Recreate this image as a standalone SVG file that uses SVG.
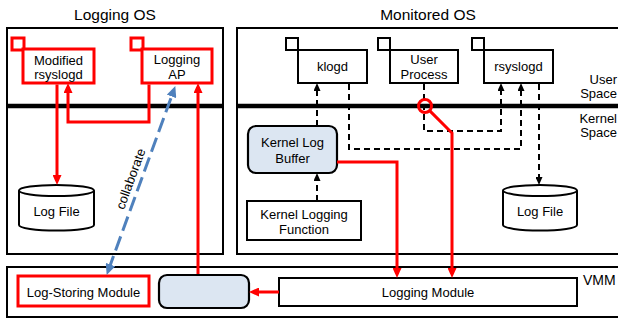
<svg xmlns="http://www.w3.org/2000/svg" width="618" height="320" viewBox="0 0 618 320">
  <style>
    text { font-family: "Liberation Sans", Arial, sans-serif; font-size: 13px; fill: #000; }
    .title { font-size: 15.5px; }
    .mid { text-anchor: middle; }
    .frame { fill: #fff; stroke: #000; stroke-width: 2; }
    .sep { stroke: #000; stroke-width: 4.5; }
    .box { fill: #fff; stroke: #000; stroke-width: 2; }
    .rbox { fill: #fff; stroke: #ff0000; stroke-width: 3; }
    .buf { fill: #dce6f2; stroke: #000; stroke-width: 2.2; }
    .red { fill: none; stroke: #ff0000; stroke-width: 3; }
    .dash { fill: none; stroke: #000; stroke-width: 2; stroke-dasharray: 6 4; }
    .blue { fill: none; stroke: #4f81bd; stroke-width: 3; stroke-dasharray: 15 6; }
  </style>
  <defs>
    <marker id="ar" viewBox="0 0 10 9" refX="6" refY="4.5" markerWidth="10" markerHeight="9" markerUnits="userSpaceOnUse" orient="auto">
      <path d="M0,0 L10,4.5 L0,9 z" fill="#ff0000"/>
    </marker>
    <marker id="ak" viewBox="0 0 8 7" refX="5" refY="3.5" markerWidth="8" markerHeight="7" markerUnits="userSpaceOnUse" orient="auto">
      <path d="M0,0 L8,3.5 L0,7 z" fill="#000"/>
    </marker>
    <marker id="ab" viewBox="0 0 11 10" refX="6" refY="5" markerWidth="11" markerHeight="10" markerUnits="userSpaceOnUse" orient="auto-start-reverse">
      <path d="M0,0 L11,5 L0,10 z" fill="#4f81bd"/>
    </marker>
  </defs>

  <!-- frames -->
  <g id="logging-os">
    <rect class="frame" x="7" y="28" width="216" height="226"/>
    <line class="sep" x1="7" y1="106" x2="223" y2="106"/>
    <text class="title mid" x="115" y="20">Logging OS</text>
  </g>
  <g id="monitored-os">
    <rect class="frame" x="237" y="28" width="400" height="226"/>
    <line class="sep" x1="237" y1="106" x2="637" y2="106"/>
    <text class="title mid" x="428" y="20">Monitored OS</text>
    <text x="617" y="84" text-anchor="end">User</text>
    <text x="617" y="98" text-anchor="end">Space</text>
    <text x="617" y="123" text-anchor="end">Kernel</text>
    <text x="617" y="137" text-anchor="end">Space</text>
  </g>
  <g id="vmm">
    <rect class="frame" x="7" y="267" width="630" height="50"/>
    <text x="583" y="285" style="font-size:14px">VMM</text>
  </g>

  <!-- Logging OS nodes -->
  <g id="modified-rsyslogd">
    <rect class="rbox" x="12" y="38" width="12" height="12"/>
    <rect class="rbox" x="23" y="49" width="71" height="34"/>
    <text class="mid" x="58.5" y="65">Modified</text>
    <text class="mid" x="58.5" y="79">rsyslogd</text>
  </g>
  <g id="logging-ap">
    <rect class="rbox" x="131" y="38" width="12" height="12"/>
    <rect class="rbox" x="142" y="49" width="70" height="34"/>
    <text class="mid" x="177" y="64">Logging</text>
    <text class="mid" x="177" y="79">AP</text>
  </g>
  <g id="log-file-left">
    <path class="box" d="M19,190.5 V225 A37.5,5.5 0 0 0 94,225 V190.5"/>
    <ellipse class="box" cx="56.5" cy="190.5" rx="37.5" ry="5.5"/>
    <text class="mid" x="56.5" y="216">Log File</text>
  </g>

  <!-- Monitored OS nodes -->
  <g id="klogd">
    <rect class="box" x="286" y="38" width="12" height="12"/>
    <rect class="box" x="298" y="50" width="69" height="33"/>
    <text class="mid" x="332.5" y="71">klogd</text>
  </g>
  <g id="user-process">
    <rect class="box" x="378" y="38" width="12" height="12"/>
    <rect class="box" x="390" y="50" width="68" height="33"/>
    <text class="mid" x="424" y="64">User</text>
    <text class="mid" x="424" y="79">Process</text>
  </g>
  <g id="rsyslogd">
    <rect class="box" x="472" y="38" width="12" height="12"/>
    <rect class="box" x="484" y="50" width="69" height="33"/>
    <text class="mid" x="518.5" y="71">rsyslogd</text>
  </g>
  <g id="kernel-log-buffer">
    <rect class="buf" x="248" y="126" width="89" height="47" rx="8"/>
    <text class="mid" x="292.5" y="147">Kernel Log</text>
    <text class="mid" x="292.5" y="163">Buffer</text>
  </g>
  <g id="kernel-logging-function">
    <rect class="box" x="247" y="201" width="114" height="39"/>
    <text class="mid" x="304" y="219">Kernel Logging</text>
    <text class="mid" x="304" y="234">Function</text>
  </g>
  <g id="log-file-right">
    <path class="box" d="M503,190.5 V225 A37,5.5 0 0 0 577,225 V190.5"/>
    <ellipse class="box" cx="540" cy="190.5" rx="37" ry="5.5"/>
    <text class="mid" x="540" y="216">Log File</text>
  </g>

  <!-- VMM nodes -->
  <g id="log-storing-module">
    <rect class="rbox" x="18" y="276" width="131" height="30"/>
    <text class="mid" x="83.5" y="297">Log-Storing Module</text>
  </g>
  <g id="transfer-buffer">
    <rect class="buf" x="159" y="275" width="90" height="33" rx="8"/>
  </g>
  <g id="logging-module">
    <rect class="box" x="279" y="278" width="298" height="28"/>
    <text class="mid" x="428" y="297">Logging Module</text>
  </g>

  <!-- connectors -->
  <g id="connectors">
    <!-- Logging OS -->
    <path class="red" d="M57,84.5 V181" marker-end="url(#ar)"/>
    <path class="red" d="M149,84.5 V122 H68 V87" marker-end="url(#ar)"/>
    <path class="red" d="M198,274 V87" marker-end="url(#ar)"/>
    <path class="blue" d="M108.4,270.2 L173.6,90.8" marker-start="url(#ab)" marker-end="url(#ab)"/>
    <text transform="translate(131,179) rotate(-70)" class="mid" y="4">collaborate</text>

    <!-- Monitored OS, kernel side -->
    <path class="dash" d="M317,201 V176" marker-end="url(#ak)"/>
    <path class="dash" d="M317,126 V86" marker-end="url(#ak)"/>
    <path class="dash" d="M349,84 V149 H521 V86" marker-end="url(#ak)"/>
    <path class="dash" d="M424,84 V131 H501 V86" marker-end="url(#ak)"/>
    <path class="dash" d="M539,84 V182" marker-end="url(#ak)"/>

    <!-- hooks into the VMM -->
    <circle cx="425" cy="106" r="6.5" fill="none" stroke="#ff0000" stroke-width="3"/>
    <path class="red" d="M429.6,110.6 L452,133 V274" marker-end="url(#ar)"/>
    <path class="red" d="M337,162 H397 V274" marker-end="url(#ar)"/>
    <path class="red" d="M279,292 H253" marker-end="url(#ar)"/>
  </g>
</svg>
